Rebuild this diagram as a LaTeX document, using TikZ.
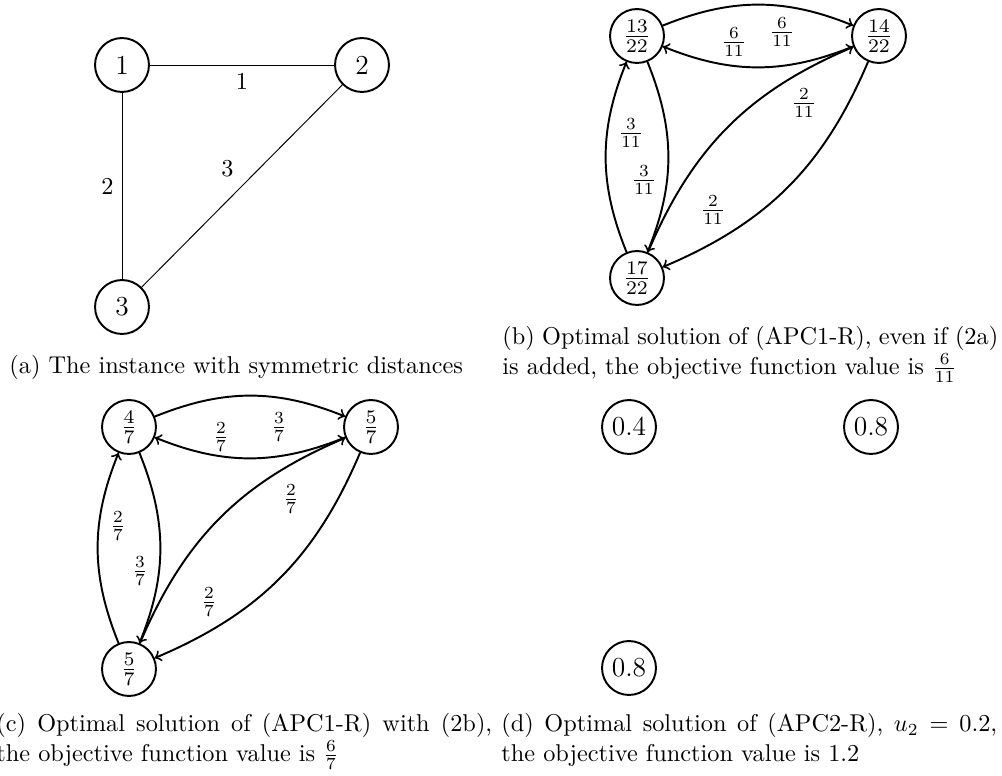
\RequirePackage{fix-cm}
\documentclass[tikz,border=0pt]{standalone}
\tikzset{
  px/.style={x=0.41152pt,y=-0.41152pt},
  vtx/.style={circle,draw,thick,minimum size=22.2pt,inner sep=0pt,font=\fontsize{11.3}{13.6}\selectfont},
  plainedge/.style={draw,line width=0.4pt},
  arc/.style={draw,thick,->},
  lbl/.style={inner sep=0pt},
  captext/.style={anchor=base west,inner sep=0pt,text width=204pt,align=justify},
}
\begin{document}
\begin{tikzpicture}[px]
\useasboundingbox (0,0) rectangle (1002,776);
% (a)
\node[vtx] (a1) at (122,65) {1};
\node[vtx] (a2) at (362,65) {2};
\node[vtx] (a3) at (122,307) {3};
\draw[plainedge] (a1) -- node[below] {1} (a2);
\draw[plainedge] (a1) -- node[left] {2} (a3);
\draw[plainedge] (a2) -- node[above left] {3} (a3);
\node[anchor=base west,inner sep=0pt] (capa) at (9,374) {(a) The instance with symmetric distances};
% (b)
\node[vtx] (b1) at (637,36) {$\frac{13}{22}$};
\node[vtx] (b2) at (879,36) {$\frac{14}{22}$};
\node[vtx] (b3) at (637,278) {$\frac{17}{22}$};
\draw[arc] (b1) to[bend left=22] (b2);
\draw[arc] (b2) to[bend left=22] (b1);
\draw[arc] (b3) to[bend left=22] (b1);
\draw[arc] (b1) to[bend left=22] (b3);
\draw[arc] (b3) to[bend left=22] (b2);
\draw[arc] (b2) to[bend left=22] (b3);
\node[lbl] (lb1) at (734,42) {$\frac{6}{11}$};
\node[lbl] (lb2) at (782,32) {$\frac{6}{11}$};
\node[lbl] (lb3) at (631,133) {$\frac{3}{11}$};
\node[lbl] (lb4) at (644,180) {$\frac{3}{11}$};
\node[lbl] (lb5) at (804,103) {$\frac{2}{11}$};
\node[lbl] (lb6) at (713,210) {$\frac{2}{11}$};
\node[captext] (capb) at (502,345) {(b) Optimal solution of (APC1-R), even if (2a) is added, the objective function value is $\frac{6}{11}$};
% (c)
\node[vtx] (c1) at (129,427) {$\frac{4}{7}$};
\node[vtx] (c2) at (371,427) {$\frac{5}{7}$};
\node[vtx] (c3) at (129,669) {$\frac{5}{7}$};
\draw[arc] (c1) to[bend left=22] (c2);
\draw[arc] (c2) to[bend left=22] (c1);
\draw[arc] (c3) to[bend left=22] (c1);
\draw[arc] (c1) to[bend left=22] (c3);
\draw[arc] (c3) to[bend left=22] (c2);
\draw[arc] (c2) to[bend left=22] (c3);
\node[lbl] (lc1) at (221,437) {$\frac{2}{7}$};
\node[lbl] (lc2) at (279,427) {$\frac{3}{7}$};
\node[lbl] (lc3) at (118,526) {$\frac{2}{7}$};
\node[lbl] (lc4) at (140,571) {$\frac{3}{7}$};
\node[lbl] (lc5) at (291,499) {$\frac{2}{7}$};
\node[lbl] (lc6) at (209,602) {$\frac{2}{7}$};
\node[captext] (capc) at (-4,732) {(c) Optimal solution of (APC1-R) with (2b), the objective function value is $\frac{6}{7}$};
% (d)
\node[vtx] (d1) at (629,427) {0.4};
\node[vtx] (d2) at (871,427) {0.8};
\node[vtx] (d3) at (629,668) {0.8};
\node[captext] (capd) at (501,732) {(d) Optimal solution of (APC2-R), $u_2 = 0.2$, the objective function value is 1.2};
\end{tikzpicture}
\end{document}
